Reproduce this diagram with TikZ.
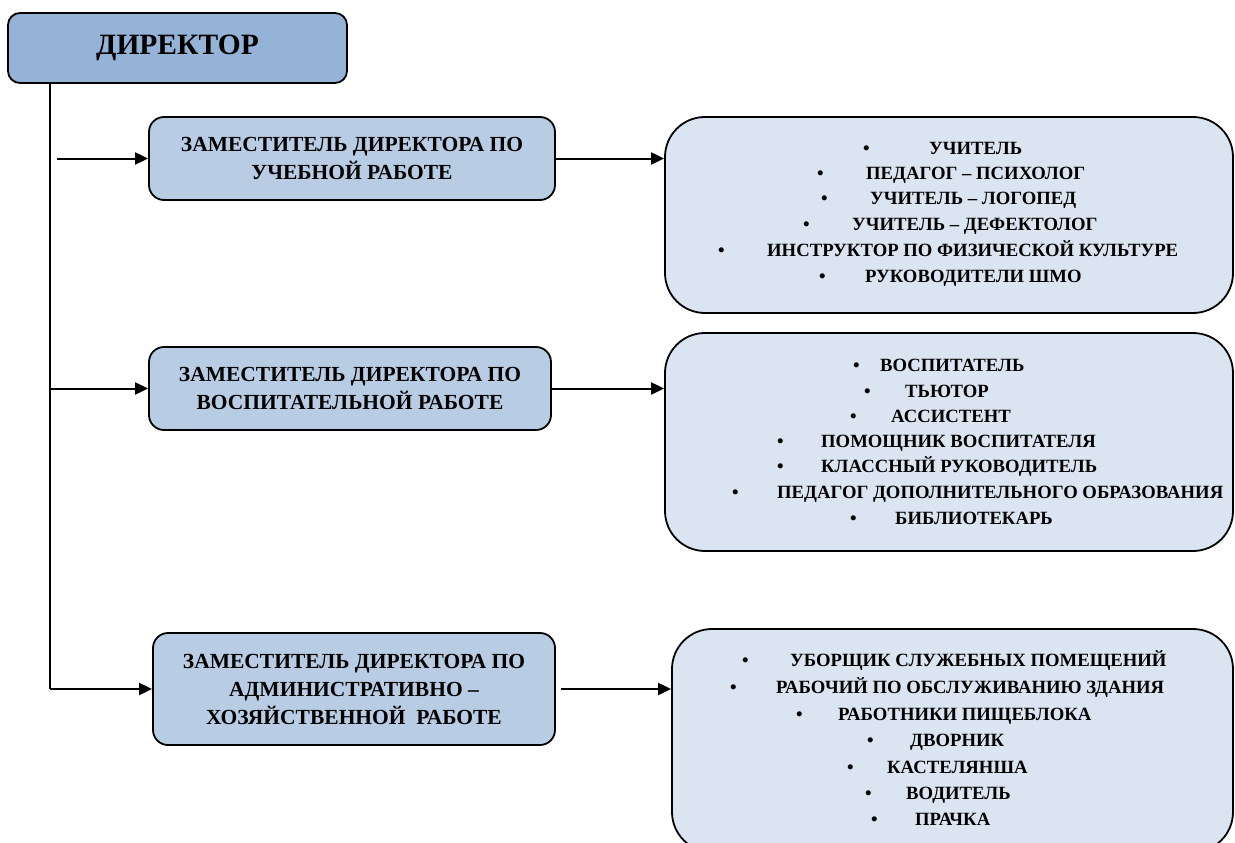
\documentclass[tikz,border=0pt]{standalone}
\usepackage{fontspec}
\setmainfont{Liberation Serif}
\usetikzlibrary{arrows.meta,calc}
\definecolor{dirfill}{HTML}{95B3D7}
\definecolor{depfill}{HTML}{B8CCE4}
\definecolor{listfill}{HTML}{DBE5F1}
\tikzset{
  boxbase/.style={draw=black, line width=1.8pt, inner sep=0pt},
  dirbox/.style={boxbase, fill=dirfill, rounded corners=12pt, font=\fontsize{29.5}{30}\selectfont\bfseries},
  depbox/.style={boxbase, fill=depfill, rounded corners=15pt, align=center, font=\fontsize{21.5}{28}\selectfont\bfseries},
  listbox/.style={boxbase, fill=listfill, rounded corners=40pt},
  itemtext/.style={anchor=west, inner sep=0pt, text height=0.66em, text depth=0pt, font=\fontsize{18.7}{20}\selectfont\bfseries},
  conn/.style={line width=2pt},
  arr/.style={line width=2pt, -{Triangle[length=13pt,width=12pt]}}
}
\begin{document}
\begin{tikzpicture}[x=1pt,y=-1pt]
\useasboundingbox (0,0) rectangle (1235,843);
% director
\node[dirbox, minimum width=339pt, minimum height=70pt] (dir) at (177.5,48) {ДИРЕКТОР};
% deputies
\node[depbox, minimum width=406pt, minimum height=83pt] (d1) at (352,158.5) {ЗАМЕСТИТЕЛЬ ДИРЕКТОРА ПО\\УЧЕБНОЙ РАБОТЕ};
\node[depbox, minimum width=402pt, minimum height=83pt] (d2) at (350,388.5) {ЗАМЕСТИТЕЛЬ ДИРЕКТОРА ПО\\ВОСПИТАТЕЛЬНОЙ РАБОТЕ};
\node[depbox, minimum width=402pt, minimum height=112pt] (d3) at (354,689) {ЗАМЕСТИТЕЛЬ ДИРЕКТОРА ПО\\АДМИНИСТРАТИВНО –\\ХОЗЯЙСТВЕННОЙ\ \ РАБОТЕ};
% lists
\node[listbox, minimum width=568pt, minimum height=196pt] (b1) at (949,215) {};
\node[listbox, minimum width=568pt, minimum height=218pt] (b2) at (949,442) {};
\node[listbox, minimum width=561pt, minimum height=223pt] (b3) at (952.5,740.5) {};
% items
\foreach \b/\t/\y/\s [count=\n, evaluate=\t as \w using \t-\b+3] in {
  866/929/151/УЧИТЕЛЬ,
  820/866/176/ПЕДАГОГ – ПСИХОЛОГ,
  824/870/201/УЧИТЕЛЬ – ЛОГОПЕД,
  806/852/227/УЧИТЕЛЬ – ДЕФЕКТОЛОГ,
  721/767/253/ИНСТРУКТОР ПО ФИЗИЧЕСКОЙ КУЛЬТУРЕ,
  822/865/279/РУКОВОДИТЕЛИ ШМО}
  \node[itemtext] (ia\n) at (\b-3,\y) {\makebox[\w pt][l]{\textbullet}\s};
\foreach \b/\t/\y/\s [count=\n, evaluate=\t as \w using \t-\b+3] in {
  856/880/368/ВОСПИТАТЕЛЬ,
  867/905/394/ТЬЮТОР,
  853/891/419/АССИСТЕНТ,
  780/821/444/ПОМОЩНИК ВОСПИТАТЕЛЯ,
  780/821/469/КЛАССНЫЙ РУКОВОДИТЕЛЬ,
  735/777/495/ПЕДАГОГ ДОПОЛНИТЕЛЬНОГО ОБРАЗОВАНИЯ,
  853/895/521/БИБЛИОТЕКАРЬ}
  \node[itemtext] (ib\n) at (\b-3,\y) {\makebox[\w pt][l]{\textbullet}\s};
\foreach \b/\t/\y/\s [count=\n, evaluate=\t as \w using \t-\b+3] in {
  745/790/663/УБОРЩИК СЛУЖЕБНЫХ ПОМЕЩЕНИЙ,
  733/776/690/РАБОЧИЙ ПО ОБСЛУЖИВАНИЮ ЗДАНИЯ,
  799/838/717/РАБОТНИКИ ПИЩЕБЛОКА,
  870/910/743/ДВОРНИК,
  850/887/770/КАСТЕЛЯНША,
  868/906/796/ВОДИТЕЛЬ,
  874/915/822/ПРАЧКА}
  \node[itemtext] (ic\n) at (\b-3,\y) {\makebox[\w pt][l]{\textbullet}\s};
% connectors
\coordinate (vt) at (50,83);
\coordinate (vb) at (50,689);
\coordinate (s1) at (57,158.5);
\draw[conn] (vt) -- (vb);
\draw[arr] (s1) -- (d1.west);
\draw[arr] (vb |- d2.west) -- (d2.west);
\draw[arr] (vb) -- (d3.west);
\draw[arr] (d1.east) -- (d1.east -| b1.west);
\draw[arr] (d2.east) -- (d2.east -| b2.west);
\draw[arr] ($(d3.east)+(5,0)$) -- (d3.east -| b3.west);
\end{tikzpicture}
\end{document}
